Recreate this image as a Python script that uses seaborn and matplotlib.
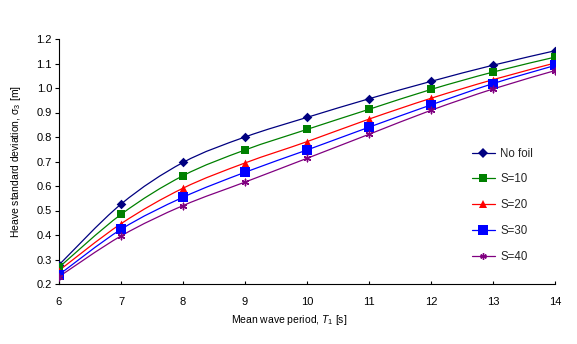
import numpy as np
import pandas as pd
import matplotlib
matplotlib.use("Agg")
import matplotlib.pyplot as plt
from matplotlib.path import Path
from matplotlib.patches import PathPatch
from matplotlib.lines import Line2D
import seaborn as sns

# ---- data ----
periods = [6, 7, 8, 9, 10, 11, 12, 13, 14]
no_foil = [0.278, 0.526, 0.696, 0.800, 0.880, 0.956, 1.027, 1.093, 1.152]
s10 = [0.268, 0.484, 0.642, 0.747, 0.831, 0.913, 0.994, 1.065, 1.126]
s20 = [0.255, 0.446, 0.591, 0.694, 0.781, 0.873, 0.958, 1.034, 1.102]
s30 = [0.238, 0.423, 0.554, 0.656, 0.747, 0.840, 0.931, 1.018, 1.092]
s40 = [0.230, 0.396, 0.520, 0.616, 0.713, 0.811, 0.909, 0.996, 1.071]
series_names = ["No foil", "S=10", "S=20", "S=30", "S=40"]
x_ticks = [6, 7, 8, 9, 10, 11, 12, 13, 14]
y_ticks = [0.2, 0.3, 0.4, 0.5, 0.6, 0.7, 0.8, 0.9, 1.0, 1.1, 1.2]

series_values = [no_foil, s10, s20, s30, s40]
colors = ["#000080", "#008000", "#FF0000", "#0000FF", "#800080"]
markers = ["D", "s", "^", "s", (6, 2, 0)]
sizes = [24, 28, 32, 50, 22]

df = pd.DataFrame({
    "period": np.tile(periods, len(series_names)),
    "value": np.concatenate(series_values),
    "series": np.repeat(series_names, len(periods)),
})

sns.set_theme(style="white")
plt.rcParams["font.family"] = ["Liberation Sans", "DejaVu Sans"]
plt.rcParams["mathtext.fontset"] = "custom"
plt.rcParams["mathtext.it"] = "Liberation Sans:italic"
plt.rcParams["mathtext.rm"] = "Liberation Sans"

fig = plt.figure(figsize=(5.77, 3.44), dpi=100)
ax = fig.add_axes([59 / 577, 1 - 284 / 344, 496 / 577, 245 / 344])


def smooth_path(xs, ys):
    pts = np.column_stack([xs, ys]).astype(float)
    n = len(pts)
    verts = [pts[0]]
    codes = [Path.MOVETO]
    for i in range(n - 1):
        p0 = pts[i - 1] if i > 0 else pts[i]
        p1 = pts[i]
        p2 = pts[i + 1]
        p3 = pts[i + 2] if i + 2 < n else pts[i + 1]
        c1 = p1 + (p2 - p0) / 6.0
        c2 = p2 - (p3 - p1) / 6.0
        verts += [c1, c2, p2]
        codes += [Path.CURVE4] * 3
    return Path(verts, codes)


handles = []
for name, col, mk, sz in zip(series_names, colors, markers, sizes):
    sub = df[df["series"] == name]
    patch = PathPatch(smooth_path(sub["period"].values, sub["value"].values),
                      facecolor="none", edgecolor=col, lw=0.9, zorder=2)
    ax.add_patch(patch)
    lw = 1.0 if isinstance(mk, tuple) else 0.0
    sns.scatterplot(data=sub, x="period", y="value", ax=ax, color=col,
                    marker=mk, s=sz, edgecolor=col, linewidth=lw, zorder=3,
                    legend=False)
    handles.append(Line2D([0], [0], color=col, lw=0.9, marker=mk,
                          markersize=np.sqrt(sz), markerfacecolor=col,
                          markeredgecolor=col,
                          markeredgewidth=lw))

ax.set_xlim(6, 14)
ax.set_ylim(0.2, 1.2)
ax.set_xticks(x_ticks)
ax.set_xticklabels([str(t) for t in x_ticks])
ax.set_yticks(y_ticks)
ax.set_yticklabels([f"{t:.1f}" for t in y_ticks])

for side in ["top", "right"]:
    ax.spines[side].set_visible(False)
for side in ["left", "bottom"]:
    ax.spines[side].set_color("black")
    ax.spines[side].set_linewidth(0.8)

ax.tick_params(axis="y", direction="out", length=3, width=0.8, pad=2,
               labelsize=8, colors="black", left=True)
ax.tick_params(axis="x", direction="in", length=2.5, width=0.8, pad=9.5,
               labelsize=8, colors="black", bottom=True)

ax.set_xlabel("Mean wave period, $T_1$ [s]", fontsize=7.5, color="black")
ax.xaxis.set_label_coords(0.464, -0.12)
ax.set_ylabel("Heave standard deviation, σ$_3$ [m]", fontsize=7.5, color="black")
ax.yaxis.set_label_coords(-0.072, 0.5)

ax.legend(handles, series_names, loc="upper left",
          bbox_to_anchor=(467 / 577, 1 - 143 / 344), bbox_transform=fig.transFigure,
          frameon=False, fontsize=8.3, handlelength=2.0, handletextpad=0.5,
          labelspacing=1.2, borderaxespad=0, borderpad=0.4)

fig.savefig("out.png", dpi=100, facecolor="white")
